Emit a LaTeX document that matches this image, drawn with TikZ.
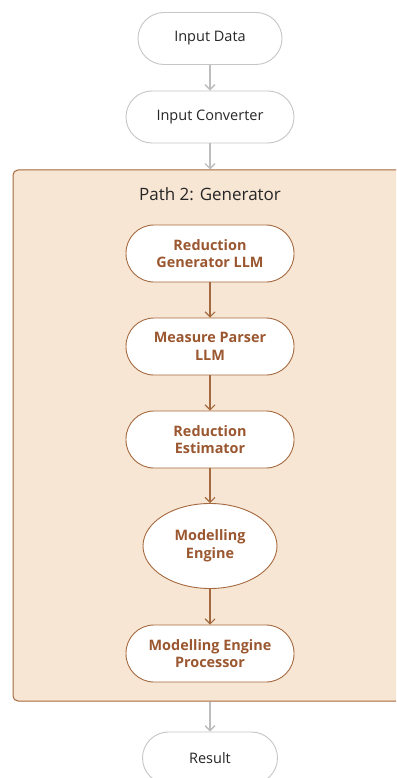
\documentclass[tikz,border=0pt]{standalone}
\usepackage{fontspec}
\setmainfont{Open Sans}
\usetikzlibrary{arrows.meta,shapes.geometric}
\definecolor{grpfill}{HTML}{F8E6D4}
\definecolor{grpline}{HTML}{A4693F}
\definecolor{brtext}{HTML}{9A5730}
\definecolor{grline}{HTML}{BDBDBD}
\definecolor{grbord}{HTML}{C6C6C6}
\tikzset{
  outer/.style={draw=grbord, line width=0.9pt, fill=white, rounded corners=26pt,
    minimum height=52pt, align=center, font=\fontsize{14.5}{17.5}\selectfont, text=black!85},
  inner/.style={draw=grpline, line width=0.9pt, fill=white, rounded corners=28pt,
    minimum width=168pt, minimum height=57pt, align=center,
    font=\fontsize{14.4}{17.5}\selectfont\bfseries, text=brtext},
  innerell/.style={ellipse, draw=grpline, line width=0.9pt, fill=white,
    minimum width=134pt, minimum height=85pt, inner sep=0pt, align=center,
    font=\fontsize{14.4}{17.5}\selectfont\bfseries, text=brtext},
  greyarrow/.style={draw=grline, line width=1.3pt, -{Straight Barb[length=5pt,width=10pt]}},
  brownarrow/.style={draw=grpline, line width=1.1pt, -{Straight Barb[length=5pt,width=10pt]}},
}
\begin{document}
\begin{tikzpicture}[x=1pt,y=-1pt]
  \useasboundingbox (0,0) rectangle (396,778);
  \clip (0,0) rectangle (396,778);
  \fill[white] (0,0) rectangle (396,778);

  % generator group container
  \node[draw=grpline, line width=1pt, fill=grpfill, rounded corners=5pt,
        minimum width=400pt, minimum height=531pt, inner sep=0pt]
        (grp) at (213,435.5) {};
  \node[font=\fontsize{17}{20}\selectfont, text=black!85] (title) at (210,194) {Path 2: Generator};

  % outer nodes
  \node[outer, minimum width=144pt] (in) at (210,38.5) {Input Data};
  \node[outer, minimum width=168pt] (conv) at (210,117) {Input Converter};
  \node[outer, minimum width=135pt] (res) at (210,758) {Result};

  % group nodes
  \node[inner] (rg) at (210,253.5) {Reduction\\Generator LLM};
  \node[inner] (mp) at (210,346.5) {Measure Parser\\LLM};
  \node[inner] (re) at (210,439.5) {Reduction\\Estimator};
  \node[innerell] (me) at (210,546) {Modelling\\Engine};
  \node[inner] (mep) at (210,653.5) {Modelling Engine\\Processor};

  % connectors
  \draw[greyarrow] (in) -- (conv);
  \draw[greyarrow] (conv) -- (conv|-grp.north);
  \draw[brownarrow] (rg) -- (mp);
  \draw[brownarrow] (mp) -- (re);
  \draw[brownarrow] (re) -- (me);
  \draw[brownarrow] (me) -- (mep);
  \draw[greyarrow] (res|-grp.south) -- (res);
\end{tikzpicture}
\end{document}
